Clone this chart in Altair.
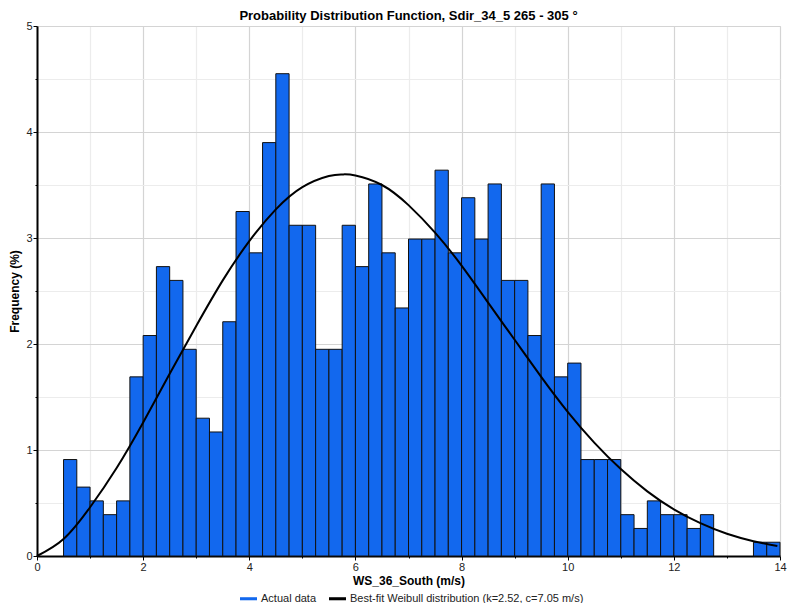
import altair as alt
import pandas as pd

# Histogram bins (left edge, m/s) and frequency (%)
bin_left = [0.5, 0.75, 1.0, 1.25, 1.5, 1.75, 2.0, 2.25, 2.5, 2.75,
            3.0, 3.25, 3.5, 3.75, 4.0, 4.25, 4.5, 4.75, 5.0, 5.25,
            5.5, 5.75, 6.0, 6.25, 6.5, 6.75, 7.0, 7.25, 7.5, 7.75,
            8.0, 8.25, 8.5, 8.75, 9.0, 9.25, 9.5, 9.75, 10.0, 10.25,
            10.5, 10.75, 11.0, 11.25, 11.5, 11.75, 12.0, 12.25, 12.5,
            13.5, 13.75]
freq = [0.91, 0.65, 0.52, 0.39, 0.52, 1.69, 2.08, 2.73, 2.60, 1.95,
        1.30, 1.17, 2.21, 3.25, 2.86, 3.90, 4.55, 3.12, 3.12, 1.95,
        1.95, 3.12, 2.73, 3.51, 2.86, 2.34, 2.99, 2.99, 3.64, 2.86,
        3.38, 2.99, 3.51, 2.60, 2.60, 2.08, 3.51, 1.69, 1.82, 0.91,
        0.91, 0.91, 0.39, 0.26, 0.52, 0.39, 0.39, 0.26, 0.39,
        0.13, 0.13]
bin_width = 0.25

# Best-fit Weibull curve
curve_x = [0.0, 0.5, 1.0, 1.5, 2.0, 2.5, 3.0, 3.5, 4.0, 4.5, 5.0, 5.5, 5.75, 6.0,
           6.5, 7.0, 7.5, 8.0, 8.5, 9.0, 9.5, 10.0, 10.5, 11.0, 11.5, 12.0,
           12.5, 13.0, 13.5, 13.95]
curve_y = [0.0, 0.16, 0.46, 0.83, 1.26, 1.72, 2.17, 2.60, 2.97, 3.27, 3.48,
           3.585, 3.60, 3.59, 3.50, 3.31, 3.05, 2.74, 2.39, 2.04, 1.69, 1.36, 1.07,
           0.82, 0.61, 0.44, 0.31, 0.21, 0.14, 0.095]

series_names = ["Actual data", "Best-fit Weibull distribution (k=2.52, c=7.05 m/s)"]
series_colors = ["#1268EE", "#000000"]

x_ticks = list(range(0, 15))
y_ticks = [0, 0.5, 1, 1.5, 2, 2.5, 3, 3.5, 4, 4.5, 5]

bars_df = pd.DataFrame({"x": bin_left, "freq": freq})
bars_df["x2"] = bars_df["x"] + bin_width
bars_df["series"] = series_names[0]
curve_df = pd.DataFrame({"x": curve_x, "y": curve_y})

FONT = "Liberation Sans"

xscale = alt.Scale(domain=[0, 14], nice=False, zero=False)
yscale = alt.Scale(domain=[0, 5], nice=False)

x_axis = alt.Axis(
    values=x_ticks, format="d",
    labelExpr="datum.value % 2 === 0 ? datum.label : ''",
    title="WS_36_South (m/s)",
    titleFont=FONT, titleFontSize=12, titleFontWeight="bold", titleColor="#000",
    titlePadding=3,
    labelFont=FONT, labelFontSize=11, labelColor="#222", labelPadding=1,
    labelFlush=False,
    grid=True,
    gridColor={"condition": {"test": "datum.value % 2 === 0", "value": "#d4d4d4"}, "value": "#ececec"},
    gridWidth=1.2,
    tickSize={"condition": {"test": "datum.value % 2 === 0", "value": 4}, "value": 2},
    tickColor="#000", domainColor="#000", domainWidth=2,
)
y_axis = alt.Axis(
    values=y_ticks, format=".0f",
    labelExpr="datum.value % 1 === 0 ? datum.label : ''",
    title="Frequency (%)",
    titleFont=FONT, titleFontSize=12, titleFontWeight="bold", titleColor="#000",
    titlePadding=4,
    labelFont=FONT, labelFontSize=11, labelColor="#222", labelPadding=1,
    grid=True,
    gridColor={"condition": {"test": "datum.value % 1 === 0", "value": "#d4d4d4"}, "value": "#ececec"},
    gridWidth=1.2,
    tickSize={"condition": {"test": "datum.value % 1 === 0", "value": 4}, "value": 2},
    tickColor="#000", domainColor="#000", domainWidth=2,
)

bars = alt.Chart(bars_df).mark_bar(stroke="#111", strokeWidth=1).encode(
    x=alt.X("x:Q", scale=xscale, axis=x_axis),
    x2="x2:Q",
    y=alt.Y("freq:Q", scale=yscale, axis=y_axis),
    y2=alt.datum(0),
    color=alt.Color(
        "series:N",
        scale=alt.Scale(domain=series_names, range=series_colors),
        legend=alt.Legend(
            title=None, orient="none", direction="horizontal",
            legendX=203, legendY=564,
            symbolType="M-1,-0.18H1V0.18H-1Z", symbolSize=289,
            symbolStrokeWidth=0, symbolOpacity=1,
            labelFont=FONT, labelFontSize=11, labelColor="#222",
            labelLimit=400,
            columnPadding=12, labelOffset=4,
        ),
    ),
)

curve = alt.Chart(curve_df).mark_line(color="#000", strokeWidth=2, interpolate="natural").encode(
    x=alt.X("x:Q", scale=xscale),
    y=alt.Y("y:Q", scale=yscale),
)

chart = alt.layer(bars, curve).properties(
    width=743, height=530,
    autosize=alt.AutoSizeParams(type="none"),
    padding={"left": 29, "top": 18, "right": 8, "bottom": 47},
    title=alt.Title(
        "Probability Distribution Function, Sdir_34_5 265 - 305 °",
        font=FONT, fontSize=13, fontWeight="bold", color="#000",
        anchor="middle", frame="group", offset=5, dy=8,
    ),
).configure_view(stroke="#000", strokeWidth=1.5).configure(background="white")

chart.save("out.html", embed_options={"renderer": "svg", "actions": False})
